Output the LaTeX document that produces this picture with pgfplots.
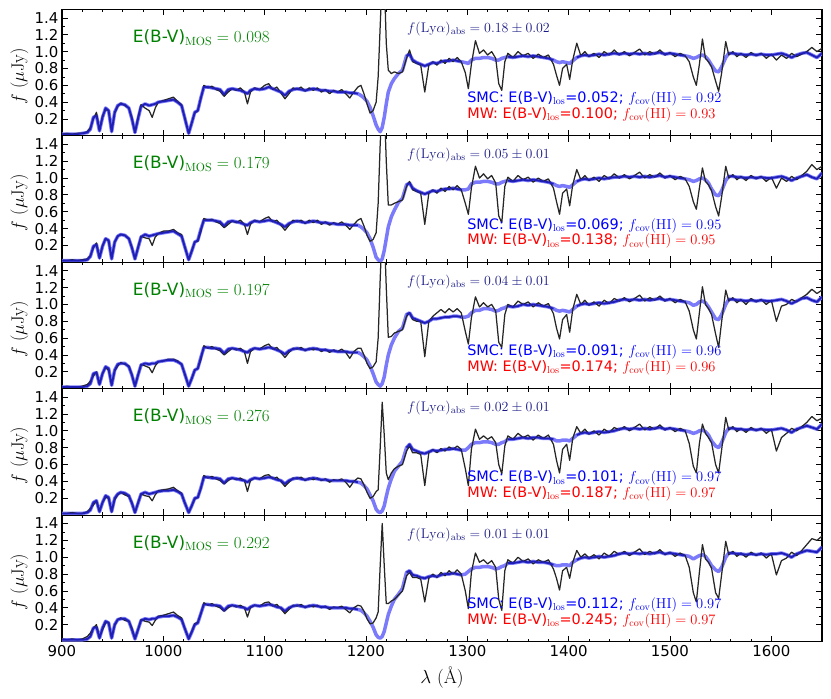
\documentclass[border=0pt]{standalone}
\usepackage{fix-cm}
\usepackage[no-math]{fontspec}
\setmainfont{DejaVu Sans}
\newfontfamily\serif{Latin Modern Roman}
\usepackage{pgfplots}
\usepackage{pgfplotstable}
\pgfplotsset{compat=1.18}
\definecolor{lblue}{rgb}{0.48,0.48,0.98}
\definecolor{dblue}{rgb}{0.12,0.12,0.72}
\definecolor{dgray}{rgb}{0.15,0.15,0.15}
\definecolor{mgreen}{rgb}{0,0.5,0}
\definecolor{lyacol}{rgb}{0.1,0.1,0.52}

\pgfplotstableread{
x d1 m1 d2 m2 d3 m3 d4 m4 d5 m5
900 .02 .02 .02 .02 .02 .02 .02 .02 .03 .02
905 .03 .02 .02 .02 .03 .02 .02 .02 .02 .02
910 .02 .02 .03 .02 .02 .02 .03 .02 .03 .02
915 .03 .02 .02 .02 .02 .02 .02 .02 .02 .02
920 .03 .03 .03 .02 .03 .02 .02 .02 .03 .02
925 .05 .04 .04 .03 .05 .03 .04 .03 .06 .03
928 .10 .08 .08 .07 .09 .06 .08 .06 .10 .06
931 .20 .22 .17 .19 .15 .18 .12 .15 .16 .16
934 .28 .24 .23 .21 .20 .19 .17 .17 .20 .17
937 .07 .06 .06 .05 .06 .05 .05 .04 .05 .04
940 .24 .22 .20 .19 .18 .18 .15 .15 .14 .16
943 .31 .33 .28 .28 .25 .26 .21 .23 .22 .24
946 .30 .30 .25 .26 .22 .24 .20 .21 .23 .22
949 .06 .05 .05 .04 .05 .04 .04 .04 .05 .04
952 .27 .28 .24 .24 .21 .22 .18 .20 .19 .20
955 .35 .36 .31 .31 .27 .29 .24 .25 .26 .26
958 .39 .38 .33 .33 .31 .30 .27 .27 .28 .27
962 .36 .37 .32 .32 .29 .30 .24 .26 .25 .27
966 .33 .33 .28 .28 .27 .26 .22 .23 .24 .24
969 .22 .20 .18 .17 .17 .16 .15 .14 .16 .14
972 .04 .04 .04 .04 .03 .03 .03 .03 .04 .03
975 .22 .20 .18 .17 .16 .16 .15 .14 .14 .14
978 .37 .35 .31 .30 .29 .28 .25 .25 .26 .25
982 .33 .38 .29 .33 .27 .30 .23 .27 .24 .27
986 .30 .36 .28 .31 .25 .29 .22 .25 .23 .26
989 .22 .37 .20 .32 .19 .30 .17 .26 .19 .27
992 .33 .38 .30 .33 .27 .30 .24 .27 .25 .27
995 .40 .40 .34 .34 .32 .32 .29 .28 .30 .29
1000 .42 .41 .37 .35 .33 .33 .30 .29 .31 .30
1005 .44 .42 .37 .36 .35 .34 .31 .29 .33 .30
1010 .46 .43 .39 .37 .35 .34 .33 .30 .35 .31
1014 .41 .40 .35 .34 .33 .32 .29 .28 .31 .29
1018 .37 .36 .33 .31 .29 .29 .26 .25 .28 .26
1021 .22 .22 .19 .19 .18 .18 .15 .15 .16 .16
1025 .03 .03 .03 .03 .03 .03 .03 .03 .04 .03
1028 .16 .15 .14 .13 .12 .12 .11 .11 .12 .11
1031 .27 .28 .24 .24 .22 .22 .19 .20 .21 .20
1034 .30 .30 .25 .26 .24 .24 .21 .21 .23 .22
1037 .44 .45 .36 .39 .34 .37 .31 .32 .33 .33
1040 .60 .58 .52 .50 .51 .49 .47 .45 .46 .44
1044 .57 .58 .50 .50 .48 .49 .44 .45 .43 .44
1048 .59 .57 .51 .50 .50 .48 .46 .44 .45 .43
1052 .55 .56 .48 .49 .47 .48 .43 .44 .42 .43
1056 .53 .55 .46 .48 .45 .47 .41 .43 .40 .42
1060 .47 .49 .41 .43 .40 .42 .37 .38 .36 .37
1064 .52 .55 .45 .48 .44 .47 .41 .43 .40 .42
1068 .56 .56 .49 .49 .48 .48 .44 .44 .43 .43
1072 .54 .55 .47 .48 .46 .47 .42 .43 .41 .42
1076 .57 .54 .50 .47 .48 .46 .44 .42 .43 .41
1080 .52 .52 .45 .45 .44 .44 .41 .41 .40 .40
1083 .38 .50 .33 .44 .30 .43 .28 .39 .29 .38
1086 .52 .54 .45 .47 .44 .46 .41 .42 .40 .41
1090 .57 .56 .50 .49 .48 .48 .44 .44 .43 .43
1095 .55 .55 .48 .48 .47 .47 .43 .43 .42 .42
1100 .60 .56 .52 .49 .51 .48 .47 .44 .46 .43
1104 .62 .58 .54 .50 .53 .49 .48 .45 .47 .44
1108 .55 .56 .48 .49 .47 .48 .43 .44 .42 .43
1112 .58 .54 .50 .47 .49 .46 .45 .42 .44 .41
1116 .51 .52 .44 .45 .43 .44 .40 .41 .39 .40
1120 .44 .48 .38 .42 .37 .41 .34 .37 .33 .36
1124 .50 .53 .44 .46 .43 .45 .39 .41 .38 .40
1128 .57 .55 .50 .48 .48 .47 .44 .43 .43 .42
1132 .55 .56 .48 .49 .47 .48 .43 .44 .42 .43
1136 .58 .55 .50 .48 .49 .47 .45 .43 .44 .42
1140 .53 .54 .46 .47 .45 .46 .41 .42 .40 .41
1144 .57 .55 .50 .48 .48 .47 .44 .43 .43 .42
1148 .54 .56 .47 .49 .46 .48 .42 .44 .41 .43
1152 .57 .55 .50 .48 .48 .47 .44 .43 .43 .42
1156 .52 .54 .45 .47 .44 .46 .41 .42 .40 .41
1160 .55 .54 .48 .47 .47 .46 .43 .42 .42 .41
1164 .50 .53 .44 .46 .43 .45 .39 .41 .38 .40
1168 .54 .53 .47 .46 .46 .45 .42 .41 .41 .40
1172 .52 .52 .45 .45 .44 .44 .41 .41 .40 .40
1176 .55 .52 .48 .45 .47 .44 .43 .41 .42 .40
1180 .50 .52 .44 .45 .43 .44 .39 .41 .38 .40
1184 .45 .51 .39 .44 .36 .43 .33 .40 .34 .39
1188 .52 .51 .45 .44 .44 .43 .40 .40 .40 .39
1192 .58 .50 .50 .44 .48 .43 .44 .39 .43 .38
1195 .60 .48 .52 .42 .48 .41 .43 .38 .42 .37
1198 .50 .45 .43 .39 .40 .38 .36 .35 .36 .34
1201 .38 .41 .32 .35 .30 .34 .27 .31 .27 .30
1204 .27 .34 .25 .28 .24 .27 .20 .24 .21 .24
1207 .30 .24 .27 .18 .26 .18 .22 .17 .22 .17
1210 .40 .13 .35 .06 .32 .08 .28 .07 .28 .08
1212 .70 .08 .70 .03 .60 .05 .30 .04 .35 .05
1214 1.30 .05 1.40 .01 1.30 .03 .80 .03 .90 .04
1216 1.90 .10 1.90 .04 1.90 .06 1.34 .05 1.40 .06
1218 1.90 .22 1.90 .14 1.90 .14 .95 .11 .90 .12
1220 1.10 .38 1.20 .28 1.20 .28 .50 .22 .45 .22
1222 .78 .52 .68 .42 .61 .40 .42 .32 .45 .32
1225 .74 .62 .68 .54 .62 .52 .50 .43 .48 .42
1228 .76 .68 .70 .62 .66 .60 .55 .52 .50 .50
1232 .74 .74 .72 .71 .68 .68 .58 .58 .55 .56
1236 .76 .78 .74 .76 .70 .72 .60 .64 .60 .63
1240 .92 .95 .90 .92 .86 .88 .76 .80 .78 .82
1243 1.02 .97 .96 .94 .90 .90 .82 .84 .82 .84
1246 .88 .90 .86 .88 .82 .84 .74 .78 .76 .79
1250 .86 .87 .84 .85 .80 .82 .74 .76 .76 .78
1254 .84 .85 .82 .83 .80 .80 .72 .74 .74 .76
1258 .52 .83 .45 .81 .38 .78 .35 .73 .47 .75
1262 .84 .85 .82 .83 .80 .80 .74 .75 .75 .77
1266 .88 .87 .86 .85 .86 .83 .78 .77 .80 .78
1270 .84 .86 .82 .84 .90 .83 .74 .76 .76 .77
1274 .90 .88 .88 .86 .94 .84 .79 .77 .82 .79
1278 .86 .89 .84 .87 .90 .85 .76 .78 .78 .80
1282 .92 .89 .90 .87 .95 .85 .81 .78 .84 .80
1286 .88 .90 .86 .88 .91 .86 .78 .79 .80 .81
1290 .93 .89 .91 .87 .95 .86 .82 .78 .85 .80
1294 .88 .88 .86 .86 .90 .85 .78 .77 .80 .79
1298 .75 .87 .70 .86 .68 .85 .55 .77 .60 .80
1301 .56 .86 .57 .87 .53 .86 .35 .80 .39 .83
1304 .85 .90 .88 .93 .84 .90 .78 .84 .82 .86
1308 1.13 .92 1.14 .95 1.09 .93 1.02 .86 1.05 .88
1312 .98 .92 1.00 .95 .97 .93 .90 .86 .94 .88
1316 1.02 .93 1.05 .96 1.02 .95 .94 .87 .97 .89
1320 .96 .93 .99 .96 .97 .95 .90 .87 .92 .89
1324 1.00 .92 1.03 .95 1.00 .94 .93 .86 .96 .88
1328 .92 .90 .94 .93 .92 .92 .86 .84 .88 .86
1331 .62 .90 .55 .93 .55 .93 .60 .84 .50 .87
1334 .54 .92 .47 .95 .49 .95 .49 .86 .37 .89
1337 .88 .93 .90 .96 .88 .96 .82 .87 .84 .90
1340 .98 .94 1.01 .97 1.00 .98 .94 .90 .97 .93
1345 .93 .93 .96 .96 .97 .97 .90 .90 .93 .93
1350 1.00 .94 1.03 .97 1.04 .98 .97 .91 1.00 .94
1355 .95 .95 .98 .98 1.00 1.00 .92 .92 .95 .95
1360 .98 .94 1.01 .97 1.03 .99 .95 .91 .98 .94
1365 .92 .95 .95 .98 .97 1.00 .89 .92 .92 .95
1370 .97 .94 1.00 .97 1.02 .99 .95 .92 .97 .94
1375 .93 .93 .96 .96 .98 .98 .91 .91 .94 .94
1380 .96 .92 .99 .95 1.01 .97 .95 .91 .97 .93
1385 .85 .90 .88 .93 .89 .95 .84 .90 .86 .91
1388 .72 .88 .72 .91 .72 .93 .65 .88 .75 .90
1391 .60 .87 .57 .90 .59 .92 .50 .88 .61 .90
1394 .80 .88 .82 .91 .82 .93 .78 .89 .84 .91
1398 .85 .87 .87 .90 .88 .92 .84 .89 .88 .91
1401 .67 .86 .67 .89 .67 .91 .65 .88 .75 .90
1404 .90 .89 .92 .92 .94 .94 .91 .91 .94 .94
1408 1.10 .93 1.10 .96 1.12 .98 1.05 .95 1.08 .97
1412 .95 .95 .98 .98 1.00 1.00 .97 .97 1.00 .99
1416 1.00 .96 1.03 .99 1.05 1.01 1.02 .98 1.04 1.00
1420 .94 .95 .97 .98 .99 1.00 .96 .97 .99 .99
1425 .98 .96 1.01 .99 1.03 1.01 1.00 .98 1.03 1.00
1430 .93 .97 .96 1.00 .98 1.02 .95 .99 .98 1.01
1435 1.00 .96 1.03 .99 1.05 1.01 1.02 .98 1.05 1.00
1440 .96 .97 .99 1.00 1.01 1.02 .98 .99 1.01 1.01
1445 1.02 .98 1.05 1.01 1.07 1.03 1.04 1.00 1.07 1.02
1450 .96 .97 1.00 1.01 1.04 1.05 1.01 1.02 1.03 1.04
1455 1.00 .98 1.04 1.02 1.08 1.06 1.05 1.03 1.07 1.05
1460 .95 .97 .99 1.01 1.03 1.05 1.00 1.02 1.02 1.04
1465 .99 .98 1.03 1.02 1.07 1.06 1.04 1.03 1.06 1.05
1470 1.03 .97 1.07 1.01 1.11 1.05 1.08 1.02 1.10 1.04
1475 .96 .98 1.00 1.02 1.04 1.06 1.01 1.03 1.03 1.05
1480 1.00 .97 1.04 1.01 1.08 1.05 1.05 1.02 1.07 1.04
1485 .97 .98 1.01 1.02 1.05 1.06 1.02 1.03 1.04 1.05
1490 1.02 .99 1.06 1.03 1.10 1.07 1.07 1.04 1.09 1.06
1495 .96 .97 1.00 1.01 1.04 1.05 1.01 1.02 1.03 1.04
1500 .99 .98 1.03 1.02 1.07 1.06 1.04 1.03 1.06 1.05
1505 .94 .97 .98 1.01 1.02 1.05 .99 1.02 1.01 1.04
1510 .98 .96 1.02 1.00 1.06 1.04 1.03 1.01 1.05 1.03
1515 .95 .95 .99 .99 1.03 1.03 1.00 1.00 1.02 1.02
1519 .88 .94 .90 .98 .92 1.02 .85 .99 .88 1.01
1523 .70 .92 .72 .96 .70 .99 .58 .97 .58 .98
1526 .60 .93 .63 .97 .59 1.00 .50 .98 .47 1.00
1529 .85 .95 .88 .99 .90 1.03 .85 1.00 .82 1.02
1532 1.15 .96 1.12 1.00 1.21 1.04 1.08 1.01 1.15 1.03
1535 .92 .94 .96 .98 1.00 1.02 .97 .99 .98 1.01
1538 .88 .90 .92 .94 .95 .97 .92 .95 .94 .96
1541 .82 .84 .85 .87 .88 .91 .86 .88 .87 .90
1545 .65 .77 .66 .80 .65 .83 .60 .82 .58 .85
1548 .53 .76 .55 .79 .49 .82 .50 .80 .51 .83
1551 .75 .82 .78 .85 .80 .88 .78 .86 .80 .88
1555 1.12 .93 1.14 .97 1.17 1.00 1.16 .98 1.19 1.00
1558 .96 .98 1.00 1.02 1.04 1.06 1.01 1.03 1.03 1.05
1562 1.00 .98 1.04 1.02 1.08 1.06 1.05 1.03 1.07 1.05
1566 .94 .97 .98 1.01 1.02 1.05 .99 1.02 1.01 1.04
1570 .98 .97 1.02 1.01 1.06 1.05 1.03 1.02 1.05 1.04
1575 .93 .96 .97 1.00 1.00 1.04 .98 1.01 1.00 1.03
1580 .99 .97 1.03 1.01 1.07 1.05 1.04 1.02 1.06 1.04
1585 .95 .96 .99 1.00 1.03 1.04 1.00 1.01 1.02 1.03
1590 .98 .97 1.02 1.01 1.06 1.05 1.03 1.02 1.05 1.04
1595 .92 .96 .96 1.00 1.00 1.04 .97 1.01 .99 1.03
1600 .97 .96 1.01 1.00 1.05 1.04 1.02 1.01 1.04 1.04
1605 .90 .97 .88 1.01 .80 1.05 .76 1.02 .79 1.04
1610 .96 .98 1.00 1.02 .98 1.06 .92 1.03 .96 1.05
1615 .92 .96 .96 1.00 1.00 1.04 .97 1.01 .99 1.03
1620 .98 .93 1.02 .97 1.06 1.01 1.03 .98 1.06 1.00
1625 .94 .96 .98 1.00 1.03 1.04 1.00 1.02 1.02 1.04
1630 .97 .98 1.03 1.02 1.08 1.07 1.05 1.04 1.08 1.06
1635 1.00 .99 1.08 1.04 1.12 1.08 1.10 1.06 1.15 1.08
1640 1.05 .96 1.16 1.01 1.18 1.05 1.17 1.04 1.22 1.07
1645 1.00 .93 1.10 .99 1.13 1.03 1.12 1.02 1.20 1.06
1650 1.04 .98 1.14 1.06 1.17 1.09 1.15 1.08 1.25 1.12
}\spec

\pgfplotsset{
  panel/.style={
    scale only axis, width=760bp, height=126.4bp, anchor=south west,
    xmin=900, xmax=1650, ymin=0, ymax=1.5,
    xtick={900,1000,1100,1200,1300,1400,1500,1600}, minor x tick num=4,
    ytick={0.2,0.4,0.6,0.8,1.0,1.2,1.4}, minor y tick num=1,
    tick align=inside, major tick length=6bp, minor tick length=3bp,
    axis line style={line width=1.1bp},
    every tick/.style={black, line width=0.8bp},
    /pgf/number format/assume math mode=true,
    /pgf/number format/1000 sep={},
    y tick label style={/pgf/number format/fixed, /pgf/number format/fixed zerofill, /pgf/number format/precision=1},
    tick label style={font=\fontsize{15}{15}\selectfont},
    ylabel={$f\ (\mu\mathrm{Jy})$},
    every axis y label/.style={at={(axis description cs:-0.056,0.47)}, rotate=90, anchor=center, font=\fontsize{18}{18}\selectfont},
  },
}

\newcommand\panel[9]{%
\begin{axis}[panel, at={(62bp,#2)}, #9]
\addplot[lblue, line width=3.5bp, line join=round] table[x=x,y=m#1]{\spec};
\addplot[dgray, line width=1.25bp, line join=round] table[x=x,y=d#1]{\spec};
\addplot[dblue, line width=1.8bp, line join=round, restrict x to domain=900:1192] table[x=x,y=m#1]{\spec};
\addplot[dblue, line width=1.8bp, line join=round, restrict x to domain=1240:1296] table[x=x,y=m#1]{\spec};
\addplot[dblue, line width=1.8bp, line join=round, restrict x to domain=1338:1386] table[x=x,y=m#1]{\spec};
\addplot[dblue, line width=1.8bp, line join=round, restrict x to domain=1406:1518] table[x=x,y=m#1]{\spec};
\addplot[dblue, line width=1.8bp, line join=round, restrict x to domain=1556:1650] table[x=x,y=m#1]{\spec};
\node[anchor=base west, text=mgreen, font=\fontsize{17}{17}\selectfont, inner sep=0pt] at (axis description cs:0.093,0.739) {E(B-V)$_{\mathrm{MOS}}=#3$};
\node[anchor=base west, text=lyacol, font=\fontsize{14}{14}\selectfont, inner sep=0pt] at (axis description cs:0.454,0.818) {$f(\mathrm{Ly}\alpha)_{\mathrm{abs}}=#4$};
\node[anchor=base west, text=blue, font=\fontsize{14.5}{14.5}\selectfont, inner sep=0pt] at (axis description cs:0.533,0.262) {SMC: E(B-V)$_{\mathrm{los}}$=#5; $f_{\mathrm{cov}}(\mathrm{HI})=#6$};
\node[anchor=base west, text=red, font=\fontsize{14.5}{14.5}\selectfont, inner sep=0pt] at (axis description cs:0.533,0.138) {MW: E(B-V)$_{\mathrm{los}}$=#7; $f_{\mathrm{cov}}(\mathrm{HI})=#8$};
\end{axis}}

\begin{document}
\begin{tikzpicture}
\useasboundingbox (0,0) rectangle (831bp,699bp);
\panel{1}{563.1bp}{0.098}{0.18\pm0.02}{0.052}{0.92}{0.100}{0.93}{xticklabels={}}
\panel{2}{436.7bp}{0.179}{0.05\pm0.01}{0.069}{0.95}{0.138}{0.95}{xticklabels={}}
\panel{3}{310.3bp}{0.197}{0.04\pm0.01}{0.091}{0.96}{0.174}{0.96}{xticklabels={}}
\panel{4}{183.9bp}{0.276}{0.02\pm0.01}{0.101}{0.97}{0.187}{0.97}{xticklabels={}}
\panel{5}{57.5bp}{0.292}{0.01\pm0.01}{0.112}{0.97}{0.245}{0.97}{xlabel={$\lambda$ {\serif(Å)}}, every axis x label/.style={at={(axis description cs:0.5,-0.285)}, anchor=center, font=\fontsize{19}{19}\selectfont}}
\end{tikzpicture}
\end{document}
